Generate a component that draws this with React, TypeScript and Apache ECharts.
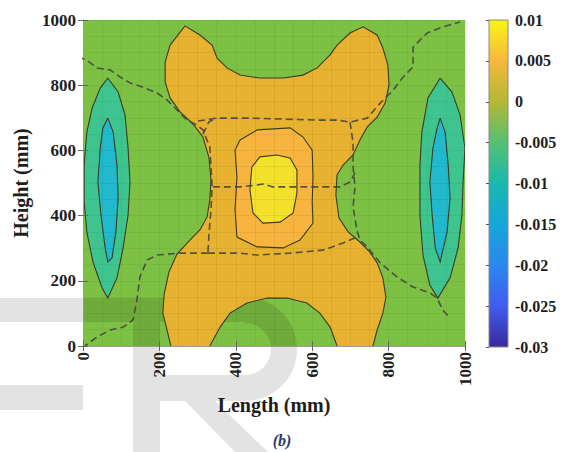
import React, { useEffect, useRef } from "react";
import * as echarts from "echarts";

// ---- axes ----
const xTickValues = [0, 200, 400, 600, 800, 1000];
const yTickValues = [0, 200, 400, 600, 800, 1000];
const colorbarTicks = [-0.03, -0.025, -0.02, -0.015, -0.01, -0.005, 0, 0.005, 0.01];

// ---- filled contour regions (Length mm, Height mm) ----
const orangeRegion = [
  [267, 982], [306, 954], [338, 923], [351, 883], [377, 853], [411, 831], [463, 822], [524, 822],
  [576, 831], [613, 853], [647, 893], [665, 923], [699, 960], [733, 979], [770, 954], [785, 914],
  [798, 862], [801, 801], [791, 745], [770, 702], [744, 672], [725, 632], [707, 586], [681, 555],
  [665, 525], [662, 463], [670, 393], [694, 350], [725, 319], [751, 288], [770, 255], [785, 209],
  [793, 150], [785, 101], [770, 49], [759, 0], [665, 0], [647, 58], [620, 101], [586, 132],
  [534, 147], [482, 147], [429, 132], [385, 101], [359, 58], [332, 0], [230, 0], [220, 49],
  [209, 101], [212, 156], [225, 227], [246, 282], [275, 319], [306, 356], [325, 396], [332, 448],
  [335, 509], [330, 577], [314, 641], [288, 681], [254, 718], [228, 761], [215, 810], [215, 871],
  [228, 923],
];
const lightOrangeRegion = [
  [411, 632], [456, 663], [542, 669], [576, 641], [600, 601], [602, 518], [600, 439], [602, 377],
  [568, 325], [524, 301], [456, 304], [403, 334], [398, 417], [403, 518], [398, 601],
];
const yellowRegion = [
  [463, 580], [508, 586], [542, 577], [560, 540], [560, 469], [550, 408], [516, 380], [471, 377],
  [445, 408], [437, 479], [442, 549],
];
const leftTealRegion = [
  [65, 822], [92, 779], [110, 709], [118, 607], [123, 503], [118, 402], [105, 301], [89, 209],
  [65, 147], [50, 178], [26, 258], [10, 350], [3, 442], [3, 555], [10, 656], [24, 730], [45, 791],
];
const leftCyanRegion = [
  [65, 699], [79, 656], [89, 555], [92, 454], [86, 350], [76, 270], [65, 258], [58, 301],
  [47, 402], [39, 503], [45, 607], [52, 669],
];
const rightTealRegion = [
  [935, 822], [966, 779], [987, 709], [1000, 607], [995, 503], [992, 402], [982, 301], [961, 209],
  [929, 147], [908, 187], [890, 279], [882, 402], [882, 555], [887, 656], [903, 761],
];
const rightCyanRegion = [
  [935, 699], [948, 656], [956, 555], [961, 454], [953, 350], [935, 258], [922, 301], [914, 402],
  [908, 503], [916, 607], [927, 669],
];

// ---- crack pattern (dashed) ----
const crackUpperLeft = [
  [-13, 887], [10, 877], [37, 853], [71, 847], [97, 825], [123, 807], [157, 794], [194, 776],
  [220, 755], [246, 724], [272, 693], [298, 678], [314, 663], [332, 610], [335, 549], [338, 488],
  [335, 417], [330, 347], [327, 285],
];
const crackLowerLeft = [
  [327, 285], [254, 285], [194, 279], [168, 264], [149, 212], [141, 141], [131, 80], [105, 58],
  [71, 49], [37, 28], [5, 0],
];
const crackTop = [
  [301, 690], [351, 699], [437, 699], [524, 696], [613, 693], [665, 693], [699, 687], [744, 699],
  [778, 745], [812, 785], [838, 825], [864, 856], [864, 917], [901, 960], [942, 979], [987, 994],
];
const crackBranch = [[314, 650], [330, 688], [351, 699]];
const crackRight = [
  [699, 687], [707, 623], [707, 549], [712, 488], [707, 426], [717, 356], [725, 325], [744, 304],
  [778, 255], [822, 212], [864, 181], [908, 163], [927, 147], [942, 110], [961, 86],
];
const crackMiddle = [
  [340, 488], [411, 488], [456, 494], [471, 497], [497, 488], [568, 488], [628, 488], [673, 488],
  [699, 503], [712, 531],
];
const crackLower = [
  [327, 285], [411, 285], [456, 279], [542, 285], [628, 294], [681, 316], [717, 334],
];

const SERIF = "'Liberation Serif', 'Times New Roman', serif";

const contourShapes = [
  { pts: orangeRegion, fill: "#e7b22f" },
  { pts: lightOrangeRegion, fill: "#f7b43f" },
  { pts: yellowRegion, fill: "#f3e12b" },
  { pts: leftTealRegion, fill: "#3ec58f" },
  { pts: leftCyanRegion, fill: "#20b9cd" },
  { pts: rightTealRegion, fill: "#3ec58f" },
  { pts: rightCyanRegion, fill: "#20b9cd" },
];
const cracks = [crackUpperLeft, crackLowerLeft, crackTop, crackBranch, crackRight, crackMiddle, crackLower];

function onBoundary(a: number[], b: number[]) {
  const x0 = xTickValues[0], x1 = xTickValues[xTickValues.length - 1];
  const y0 = yTickValues[0], y1 = yTickValues[yTickValues.length - 1];
  return (
    (a[1] === y0 && b[1] === y0) || (a[1] === y1 && b[1] === y1) ||
    (a[0] === x0 && b[0] === x0) || (a[0] === x1 && b[0] === x1)
  );
}

export default function App() {
  const ref = useRef<HTMLDivElement>(null);
  useEffect(() => {
    document.body.style.margin = "0";
    const chart = echarts.init(ref.current!, null, { renderer: "svg" });
    const xMin = xTickValues[0], xMax = xTickValues[xTickValues.length - 1];
    const yMin = yTickValues[0], yMax = yTickValues[yTickValues.length - 1];
    const cMin = colorbarTicks[0], cMax = colorbarTicks[colorbarTicks.length - 1];

    const gradient = new echarts.graphic.LinearGradient(0, 0, 0, 1, [
      { offset: 0, color: "#f8f514" },
      { offset: 0.125, color: "#f6b83e" },
      { offset: 0.25, color: "#b3b833" },
      { offset: 0.375, color: "#55c073" },
      { offset: 0.5, color: "#19b8b0" },
      { offset: 0.625, color: "#15a6da" },
      { offset: 0.75, color: "#2b87ee" },
      { offset: 0.875, color: "#405dee" },
      { offset: 1, color: "#3a2a9c" },
    ]);

    const tickStyle = { show: true, inside: true, length: 5, lineStyle: { color: "#666", width: 1 } };
    const lineAxis = { show: true, lineStyle: { color: "#9a9a9a", width: 1 } };
    const gridLine = { show: true, lineStyle: { color: "rgba(40,40,40,0.07)", width: 1 } };
    const labelStyle = {
      fontFamily: SERIF, fontWeight: "bold", fontSize: 17, color: "#1e1e1e",
      formatter: (v: number) => String(v),
    };
    const nameStyle = { fontFamily: SERIF, fontWeight: "bold", fontSize: 20, color: "#1e1e1e" };

    const option: any = {
      animation: false,
      backgroundColor: "#ffffff",
      title: {
        text: "(b)",
        left: "center",
        top: 427,
        textStyle: { fontFamily: SERIF, fontStyle: "italic", fontWeight: "bold", fontSize: 16, color: "#2b3a6b" },
      },
      grid: [
        { left: 83, top: 20, width: 382, height: 326, show: true, backgroundColor: "#7cc143", borderWidth: 0 },
        { left: 489, top: 20, width: 19, height: 327, show: true, backgroundColor: gradient, borderColor: "#8a8a8a", borderWidth: 1 },
      ],
      xAxis: [
        {
          type: "value", gridIndex: 0, position: "bottom", min: xMin, max: xMax, interval: xTickValues[1] - xTickValues[0], z: 4,
          axisLine: lineAxis, axisTick: tickStyle,
          axisLabel: { ...labelStyle, rotate: 90, margin: 6 },
          splitLine: gridLine, minorTick: { show: false, splitNumber: 4 }, minorSplitLine: gridLine,
          name: "Length (mm)", nameLocation: "middle", nameGap: 49, nameTextStyle: nameStyle,
        },
        {
          type: "value", gridIndex: 0, position: "top", min: xMin, max: xMax, interval: xTickValues[1] - xTickValues[0], z: 4,
          axisLine: lineAxis, axisTick: tickStyle, axisLabel: { show: false }, splitLine: { show: false },
        },
        { type: "value", gridIndex: 1, show: false, min: 0, max: 1 },
      ],
      yAxis: [
        {
          type: "value", gridIndex: 0, position: "left", min: yMin, max: yMax, interval: yTickValues[1] - yTickValues[0], z: 4,
          axisLine: lineAxis, axisTick: tickStyle,
          axisLabel: { ...labelStyle, margin: 7 },
          splitLine: gridLine, minorTick: { show: false, splitNumber: 4 }, minorSplitLine: gridLine,
          name: "Height (mm)", nameLocation: "middle", nameGap: 48, nameRotate: 90, nameTextStyle: nameStyle,
        },
        {
          type: "value", gridIndex: 0, position: "right", min: yMin, max: yMax, interval: yTickValues[1] - yTickValues[0], z: 4,
          axisLine: lineAxis, axisTick: tickStyle, axisLabel: { show: false }, splitLine: { show: false },
        },
        {
          type: "value", gridIndex: 1, position: "right", min: cMin, max: cMax, interval: colorbarTicks[1] - colorbarTicks[0],
          axisLine: { show: false },
          axisTick: { show: true, inside: true, length: 3, lineStyle: { color: "#555" } },
          axisLabel: {
            fontFamily: SERIF, fontWeight: "bold", fontSize: 16, color: "#1e1e1e", margin: 7,
            formatter: (v: number) => String(parseFloat(v.toFixed(3))),
          },
          splitLine: { show: false },
        },
      ],
      series: [
        {
          type: "custom",
          xAxisIndex: 0,
          yAxisIndex: 0,
          clip: true,
          z: 2,
          silent: true,
          data: contourShapes.map((_, i) => [i, 0]),
          renderItem: (params: any, api: any) => {
            const s = contourShapes[api.value(0)];
            const pts = s.pts.map((p) => api.coord(p));
            const children: any[] = [
              { type: "polygon", shape: { points: pts }, style: { fill: s.fill, stroke: "none" } },
            ];
            const n = s.pts.length;
            let start = 0;
            for (let k = 0; k < n; k++) {
              if (onBoundary(s.pts[(k - 1 + n) % n], s.pts[k])) { start = k; break; }
            }
            let run: number[][] = [];
            const lineStyle = { fill: "none", stroke: "#3c3b25", lineWidth: 1.1 };
            for (let j = 0; j < n; j++) {
              const a = (start + j) % n, b = (start + j + 1) % n;
              if (onBoundary(s.pts[a], s.pts[b])) {
                if (run.length > 1) children.push({ type: "polyline", shape: { points: run }, style: lineStyle });
                run = [];
              } else {
                if (run.length === 0) run.push(pts[a]);
                run.push(pts[b]);
              }
            }
            if (run.length > 1) children.push({ type: "polyline", shape: { points: run }, style: lineStyle });
            return { type: "group", children };
          },
        },
        ...cracks.map((c) => ({
          type: "line",
          xAxisIndex: 0,
          yAxisIndex: 0,
          data: c,
          symbol: "none",
          clip: false,
          silent: true,
          z: 5,
          lineStyle: { type: [7, 4], color: "#46463f", width: 1.6, opacity: 0.9 },
        })),
      ],
      graphic: [
        {
          type: "group",
          z: 100,
          silent: true,
          children: [
            { type: "rect", shape: { x: 0, y: 298, width: 245, height: 24 }, style: { fill: "rgba(0,0,0,0.11)" } },
            { type: "rect", shape: { x: 0, y: 385, width: 83, height: 25 }, style: { fill: "rgba(0,0,0,0.11)" } },
            { type: "rect", shape: { x: 133, y: 322, width: 27, height: 130 }, style: { fill: "rgba(0,0,0,0.11)" } },
            { type: "rect", shape: { x: 160, y: 375, width: 85, height: 26 }, style: { fill: "rgba(0,0,0,0.11)" } },
            {
              type: "sector",
              shape: { cx: 245, cy: 349, r0: 26, r: 52, startAngle: -Math.PI / 2, endAngle: Math.PI / 2, clockwise: true },
              style: { fill: "rgba(0,0,0,0.11)" },
            },
            { type: "polygon", shape: { points: [[185, 401], [215, 401], [268, 452], [235, 452]] }, style: { fill: "rgba(0,0,0,0.11)" } },
          ],
        },
      ],
    };
    chart.setOption(option);
    return () => chart.dispose();
  }, []);
  return <div ref={ref} style={{ width: 564, height: 452 }} />;
}
